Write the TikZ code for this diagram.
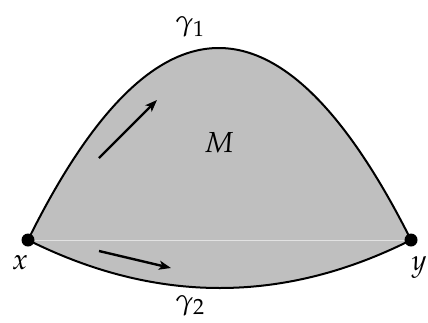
\documentclass[tikz,border=0pt]{standalone}
\usepackage{mathpazo}
\usetikzlibrary{arrows.meta}
\begin{document}
\begin{tikzpicture}[x=1pt,y=-1pt,
  curve/.style={line width=2pt,black},
  region/.style={fill=black!25},
  pt/.style={circle,fill=black,inner sep=0pt,minimum size=13pt},
  lbl/.style={inner sep=0pt,font=\fontsize{29}{34}\selectfont},
  flow/.style={line width=2.4pt,-{Stealth[length=12pt,width=9pt,inset=3pt]}}]
\useasboundingbox (0,0) rectangle (428,322);
\coordinate (X) at (28,240);
\coordinate (Y) at (411,240);
\coordinate (C1) at (154.7,-16);
\coordinate (C2) at (282.3,-16);
\coordinate (D1) at (156,304);
\coordinate (D2) at (283.7,304);
\fill[region] (X) .. controls (C1) and (C2) .. (Y) -- cycle;
\fill[region] (X) .. controls (D1) and (D2) .. (Y) -- cycle;
\draw[white!55!black!25, line width=0.6pt] (X) -- (Y);
\draw[curve] (X) .. controls (C1) and (C2) .. (Y);
\draw[curve] (X) .. controls (D1) and (D2) .. (Y);
\node[pt] (x) at (X) {};
\node[pt] (y) at (Y) {};
\coordinate (a1s) at (99,158);
\coordinate (a1e) at (157,100);
\coordinate (a2s) at (99,251);
\coordinate (a2e) at (171,268);
\draw[flow] (a1s) -- (a1e);
\draw[flow] (a2s) -- (a2e);
\node[lbl] (g1) at (190,27) {$\gamma_1$};
\node[lbl] (M) at (219,143) {$M$};
\node[lbl] (lx) at (20,263) {$x$};
\node[lbl] (ly) at (419,267) {$y$};
\node[lbl] (g2) at (190,306) {$\gamma_2$};
\end{tikzpicture}
\end{document}
